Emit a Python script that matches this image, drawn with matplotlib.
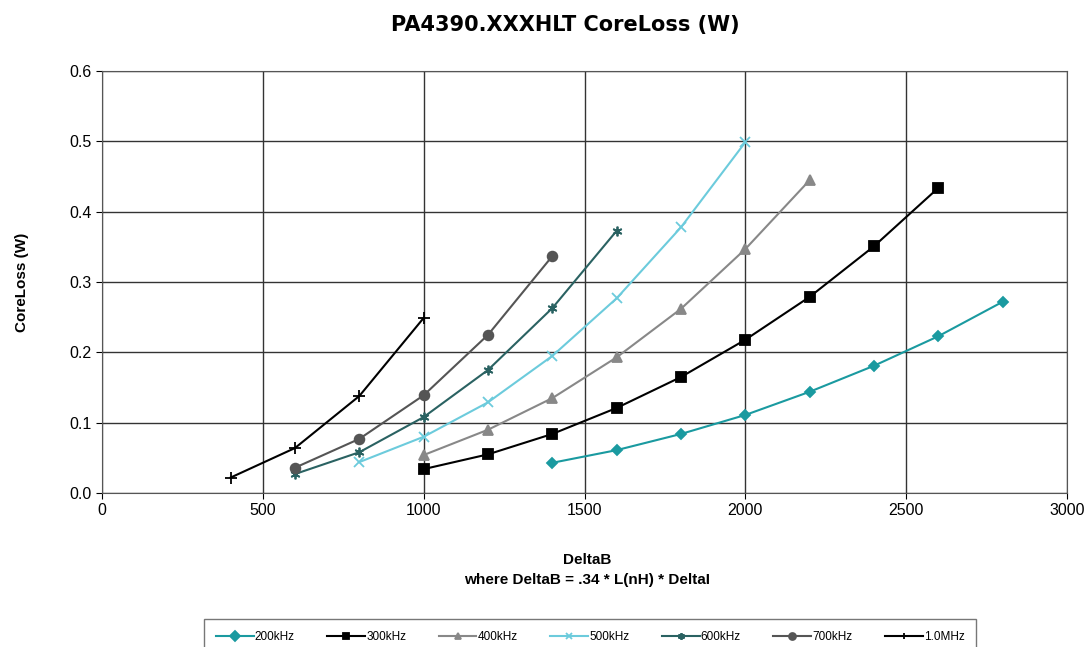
import matplotlib.pyplot as plt

plt.rcParams['font.family'] = ['Liberation Sans', 'DejaVu Sans']

# DeltaB values for each frequency
x_200k = [1400, 1600, 1800, 2000, 2200, 2400, 2600, 2800]
y_200k = [0.043, 0.061, 0.084, 0.111, 0.144, 0.181, 0.223, 0.272]

x_300k = [1000, 1200, 1400, 1600, 1800, 2000, 2200, 2400, 2600]
y_300k = [0.034, 0.055, 0.084, 0.121, 0.165, 0.218, 0.279, 0.351, 0.434]

x_400k = [1000, 1200, 1400, 1600, 1800, 2000, 2200]
y_400k = [0.054, 0.090, 0.135, 0.193, 0.262, 0.347, 0.445]

x_500k = [800, 1000, 1200, 1400, 1600, 1800, 2000]
y_500k = [0.044, 0.080, 0.129, 0.195, 0.277, 0.378, 0.499]

x_600k = [600, 800, 1000, 1200, 1400, 1600]
y_600k = [0.027, 0.058, 0.108, 0.175, 0.263, 0.373]

x_700k = [600, 800, 1000, 1200, 1400]
y_700k = [0.036, 0.077, 0.139, 0.225, 0.337]

x_1m = [400, 600, 800, 1000]
y_1m = [0.022, 0.064, 0.138, 0.249]

series = [
    ('200kHz', x_200k, y_200k, '#1a9aa0', 'D', 5),
    ('300kHz', x_300k, y_300k, '#000000', 's', 7),
    ('400kHz', x_400k, y_400k, '#888888', '^', 7),
    ('500kHz', x_500k, y_500k, '#6ccbdc', 'x', 7),
    ('600kHz', x_600k, y_600k, '#2a6262', (6, 2, 0), 7),
    ('700kHz', x_700k, y_700k, '#555555', 'o', 7),
    ('1.0MHz', x_1m, y_1m, '#000000', '+', 8),
]

fig = plt.figure(figsize=(10.91, 6.47), dpi=100)
ax = fig.add_axes([0.0935, 0.238, 0.8845, 0.652])

for name, xs, ys, col, mk, ms in series:
    ax.plot(xs, ys, color=col, marker=mk, markersize=ms, linewidth=1.5,
            markeredgewidth=1.3, label=name)

ax.set_xlim(0, 3000)
ax.set_ylim(0, 0.6)
ax.set_xticks(range(0, 3001, 500))
ax.set_yticks([0.0, 0.1, 0.2, 0.3, 0.4, 0.5, 0.6])
ax.set_yticklabels(['0.0', '0.1', '0.2', '0.3', '0.4', '0.5', '0.6'])
ax.tick_params(labelsize=11.5, direction='out', length=4)
ax.grid(True, color='#333333', linewidth=1.0)
ax.set_axisbelow(True)
for s in ax.spines.values():
    s.set_color('#555555')

ax.set_ylabel('CoreLoss (W)', fontsize=11, fontweight='bold', labelpad=29)
fig.text(0.538, 0.135, 'DeltaB', ha='center', va='center', fontsize=11, fontweight='bold')
fig.text(0.538, 0.104, 'where DeltaB = .34 * L(nH) * DeltaI', ha='center', va='center',
         fontsize=11, fontweight='bold')

fig.text(0.518, 0.962, 'PA4390.XXXHLT CoreLoss (W)', ha='center', va='center',
         fontsize=15, fontweight='bold', family=['DejaVu Sans'])

leg = fig.legend(loc='upper center', bbox_to_anchor=(0.541, 0.0525), ncol=7, fontsize=8.5,
                 frameon=True, fancybox=False, edgecolor='#555555', handlelength=3.2,
                 columnspacing=2.75, handletextpad=0.1, borderpad=1.0)
for h in leg.legend_handles:
    h.set_markersize(5)

plt.savefig('out.png', dpi=100)
